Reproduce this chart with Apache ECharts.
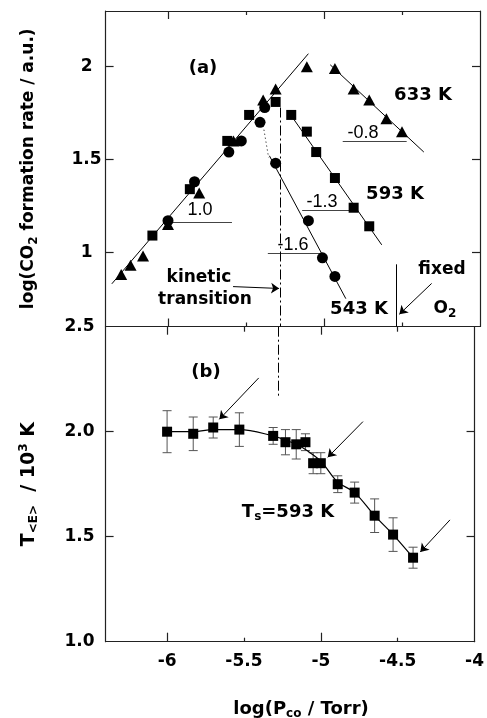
<!DOCTYPE html>
<html>
<head>
<meta charset="utf-8">
<script src="https://cdn.jsdelivr.net/npm/echarts@6/dist/echarts.min.js"></script>
<style>
html, body { margin: 0; padding: 0; background: #fff; }
#chart { width: 487px; height: 718px; }
</style>
</head>
<body>
<div id="chart"></div>
<script>
// panel (a): log CO2 rate vs log P_CO at three surface temperatures
const tri633X = [-6.30, -6.24, -6.16, -6.00, -5.80, -5.58, -5.39, -5.31, -5.11, -4.93, -4.81, -4.71, -4.60, -4.50];
const tri633Y = [0.88, 0.93, 0.98, 1.15, 1.32, 1.60, 1.82, 1.88, 2.00, 1.99, 1.88, 1.82, 1.72, 1.65];
const sq593X = [-6.10, -5.86, -5.62, -5.48, -5.31, -5.21, -5.11, -5.05, -4.93, -4.81, -4.71];
const sq593Y = [1.09, 1.34, 1.60, 1.74, 1.81, 1.74, 1.65, 1.54, 1.40, 1.24, 1.14];
const circ543X = [-6.00, -5.83, -5.61, -5.53, -5.41, -5.38, -5.31, -5.10, -5.01, -4.93];
const circ543Y = [1.17, 1.38, 1.54, 1.60, 1.70, 1.78, 1.48, 1.17, 0.97, 0.87];

// fitted straight lines (start, end)
const fitRise = [[-6.36, 0.83], [-5.10, 2.07]];
const fit633 = [[-4.96, 2.01], [-4.36, 1.54]];
const fit593 = [[-5.23, 1.76], [-4.63, 1.04]];
const fit543 = [[-5.35, 1.52], [-4.86, 0.75]];
const drop543 = [[-5.385, 1.66], [-5.355, 1.51]];
// slope marks: [x0, x1, y]
const slopeMarks = [[-5.98, -5.59, 1.164], [-4.88, -4.47, 1.596], [-5.14, -4.80, 1.224], [-5.36, -5.02, 0.994]];
const transitionX = -5.28;
const fixedO2X = -4.534;

// panel (b): T<E> at Ts = 593 K
const tsX = [-6.00, -5.83, -5.70, -5.53, -5.31, -5.23, -5.16, -5.10, -5.05, -5.00, -4.89, -4.78, -4.65, -4.53, -4.40];
const tsY = [2.00, 1.99, 2.02, 2.01, 1.98, 1.95, 1.94, 1.95, 1.85, 1.85, 1.75, 1.71, 1.60, 1.51, 1.40];
const tsErr = [0.10, 0.08, 0.05, 0.08, 0.04, 0.06, 0.07, 0.04, 0.05, 0.05, 0.04, 0.05, 0.08, 0.08, 0.05];
const curveX = [-6.00, -5.83, -5.70, -5.53, -5.31, -5.23, -5.16, -5.09, -5.00, -4.89, -4.78, -4.65, -4.53, -4.40];
const curveY = [2.00, 2.00, 2.01, 2.01, 1.98, 1.96, 1.94, 1.91, 1.86, 1.76, 1.71, 1.60, 1.51, 1.40];

const xLabels = [-6, -5.5, -5, -4.5, -4];
const yLabelsA = [1, 1.5, 2];
const yLabelsB = [1, 1.5, 2, 2.5];

const FONT = 'DejaVu Sans';
const INK = '#000';
const FRAME = '#222';

const zip = (xs, ys) => xs.map((x, i) => [x, ys[i]]);

const chart = echarts.init(document.getElementById('chart'));

function xAx(grid, position, ticks, len, labels) {
  return {
    type: 'value', gridIndex: grid, position: position, min: -6.4, max: -4,
    axisLine: { show: true, onZero: false, lineStyle: { color: FRAME, width: 1.2 } },
    axisTick: { show: true, inside: true, length: len, customValues: ticks, lineStyle: { color: FRAME, width: 1.2 } },
    axisLabel: labels ? {
      customValues: labels, showMinLabel: true, showMaxLabel: true, margin: 11,
      color: INK, fontFamily: FONT, fontWeight: 'bold', fontSize: 17,
      formatter: v => String(v)
    } : { show: false },
    splitLine: { show: false }
  };
}

function yAx(grid, position, min, max, ticks, extra) {
  return Object.assign({
    type: 'value', gridIndex: grid, position: position, min: min, max: max,
    axisLine: { show: true, onZero: false, lineStyle: { color: FRAME, width: 1.2 } },
    axisTick: { show: true, inside: true, length: 8, customValues: ticks, lineStyle: { color: FRAME, width: 1.2 } },
    axisLabel: { show: false },
    splitLine: { show: false }
  }, extra || {});
}

const subRich = {
  s: { fontFamily: FONT, fontWeight: 'bold', fontSize: 12, lineHeight: 10, verticalAlign: 'bottom', color: INK },
  p: { fontFamily: FONT, fontWeight: 'bold', fontSize: 12, lineHeight: 10, verticalAlign: 'top', color: INK }
};

function seg(a, b, style, arrow) {
  return {
    type: 'lines', coordinateSystem: 'cartesian2d', xAxisIndex: a.xi, yAxisIndex: a.yi,
    silent: true, z: 3,
    symbol: arrow ? ['none', 'arrow'] : ['none', 'none'], symbolSize: 8,
    lineStyle: Object.assign({ color: INK, width: 1, opacity: 1 }, style || {}),
    data: b.map(c => ({ coords: c }))
  };
}

function txt(x, y, text, size, weight) {
  return {
    type: 'text', x: x, y: y, z: 10,
    style: {
      text: text, fill: INK, fontFamily: weight === 'normal' ? 'Liberation Sans' : FONT,
      fontWeight: weight || 'bold', fontSize: size,
      align: 'center', verticalAlign: 'middle', textAlign: 'center', textVerticalAlign: 'middle',
      rich: {
        s: { fontFamily: FONT, fontWeight: 'bold', fontSize: 12, lineHeight: 10, verticalAlign: 'bottom', fill: INK },
        m: { fontFamily: FONT, fontWeight: 'bold', fontSize: size, lineHeight: 22, fill: INK }
      }
    }
  };
}

const A = { xi: 0, yi: 0 };
const B = { xi: 6, yi: 2 };
const dot = { color: INK, opacity: 1 };

chart.setOption({
  animation: false,
  backgroundColor: '#fff',
  grid: [
    { left: 105.6, width: 374.4, top: 11, height: 315.5 },
    { left: 105.6, width: 374.4, top: 326.7, height: 315 }
  ],
  xAxis: [
    xAx(0, 'bottom', [-6, -5], 8),
    xAx(0, 'bottom', [-5.5, -4.5], 4),
    xAx(0, 'top', [-6, -5], 8),
    xAx(0, 'top', [-5.5, -4.5], 4),
    xAx(1, 'top', [-6, -5], 8),
    xAx(1, 'top', [-5.5, -4.5], 5),
    xAx(1, 'bottom', [-6, -5], 9, xLabels),
    xAx(1, 'bottom', [-5.5, -4.5], 4)
  ],
  yAxis: [
    yAx(0, 'left', 0.6, 2.3, yLabelsA, {
      axisLabel: {
        customValues: yLabelsA, align: 'center', margin: 19, showMinLabel: true, showMaxLabel: true,
        color: INK, fontFamily: FONT, fontWeight: 'bold', fontSize: 17, formatter: v => String(v)
      },
      name: 'log(CO{s|2} formation rate / a.u.)', nameLocation: 'middle', nameGap: 66, nameRotate: 90,
      nameTextStyle: { color: INK, fontFamily: FONT, fontWeight: 'bold', fontSize: 17, lineHeight: 22, rich: subRich }
    }),
    yAx(0, 'right', 0.6, 2.3, yLabelsA),
    yAx(1, 'left', 1, 2.5, [1.5, 2], {
      axisLabel: {
        customValues: yLabelsB, margin: 11, showMinLabel: true, showMaxLabel: true,
        color: INK, fontFamily: FONT, fontWeight: 'bold', fontSize: 17, formatter: v => v.toFixed(1)
      },
      name: 'T{s|<E>}  / 10{p|3} K', nameLocation: 'middle', nameGap: 66, nameRotate: 90,
      nameTextStyle: { color: INK, fontFamily: FONT, fontWeight: 'bold', fontSize: 19, lineHeight: 22, rich: subRich }
    }),
    yAx(1, 'right', 1, 2.5, [1.5, 2])
  ],
  series: [
    seg(A, [fitRise, fit633, fit593, fit543]),
    seg(A, [drop543], { type: [1, 3] }),
    seg(A, slopeMarks.map(m => [[m[0], m[2]], [m[1], m[2]]]), { color: '#444' }),
    seg(A, [[[transitionX, 1.78], [transitionX, 0.6]]], { type: [10, 3, 2, 3] }),
    seg(B, [[[transitionX, 2.5], [transitionX, 2.17]]], { type: [10, 3, 2, 3] }),
    seg(A, [[[fixedO2X, 0.935], [fixedO2X, 0.6]]]),
    seg(A, [[[-5.583, 0.815], [-5.288, 0.805]], [[-4.310, 0.832], [-4.517, 0.666]]], {}, true),
    seg(B, [[[-5.404, 2.256], [-5.660, 2.059]], [[-4.726, 2.048], [-4.955, 1.878]], [[-4.160, 1.580], [-4.353, 1.427]]], {}, true),
    {
      name: '633 K', type: 'scatter', xAxisIndex: 0, yAxisIndex: 0, z: 5,
      symbol: 'triangle', symbolSize: [12, 11], itemStyle: dot,
      data: zip(tri633X, tri633Y)
    },
    {
      name: '593 K', type: 'scatter', xAxisIndex: 0, yAxisIndex: 0, z: 5,
      symbol: 'rect', symbolSize: 10, itemStyle: dot,
      data: zip(sq593X, sq593Y)
    },
    {
      name: '543 K', type: 'scatter', xAxisIndex: 0, yAxisIndex: 0, z: 5,
      symbol: 'circle', symbolSize: 11, itemStyle: dot,
      data: zip(circ543X, circ543Y)
    },
    {
      name: 'fit', type: 'line', xAxisIndex: 6, yAxisIndex: 2, z: 3,
      smooth: 0.35, showSymbol: false, lineStyle: { color: INK, width: 1.2 },
      data: zip(curveX, curveY)
    },
    {
      name: 'err', type: 'custom', xAxisIndex: 6, yAxisIndex: 2, z: 2,
      data: tsX.map((x, i) => [x, tsY[i], tsErr[i]]),
      renderItem: (params, api) => {
        const x = api.value(0), y = api.value(1), e = api.value(2);
        const t = api.coord([x, y + e]), b = api.coord([x, y - e]);
        const st = { stroke: '#555', lineWidth: 1 };
        return {
          type: 'group', children: [
            { type: 'line', shape: { x1: t[0], y1: t[1], x2: b[0], y2: b[1] }, style: st },
            { type: 'line', shape: { x1: t[0] - 4.5, y1: t[1], x2: t[0] + 4.5, y2: t[1] }, style: st },
            { type: 'line', shape: { x1: b[0] - 4.5, y1: b[1], x2: b[0] + 4.5, y2: b[1] }, style: st }
          ]
        };
      }
    },
    {
      name: 'T<E>', type: 'scatter', xAxisIndex: 6, yAxisIndex: 2, z: 5,
      symbol: 'rect', symbolSize: 10, itemStyle: dot,
      data: zip(tsX, tsY)
    }
  ],
  graphic: [
    txt(203, 68, '(a)', 18),
    txt(206, 372, '(b)', 18),
    txt(423, 95, '633 K', 18),
    txt(395, 194, '593 K', 18),
    txt(359, 309, '543 K', 18),
    txt(200, 210, '1.0', 18, 'normal'),
    txt(363, 133, '-0.8', 18, 'normal'),
    txt(322, 202, '-1.3', 18, 'normal'),
    txt(293, 245, '-1.6', 18, 'normal'),
    txt(199, 278, 'kinetic', 17),
    txt(205, 300, 'transition', 17),
    txt(442, 270, 'fixed', 17),
    txt(445, 309, '{m|O}{s|2}', 17),
    txt(288, 512, '{m|T}{s|s}{m|=593 K}', 18),
    txt(301, 709, '{m|log(P}{s|co}{m| / Torr)}', 18)
  ]
});
</script>
</body>
</html>
